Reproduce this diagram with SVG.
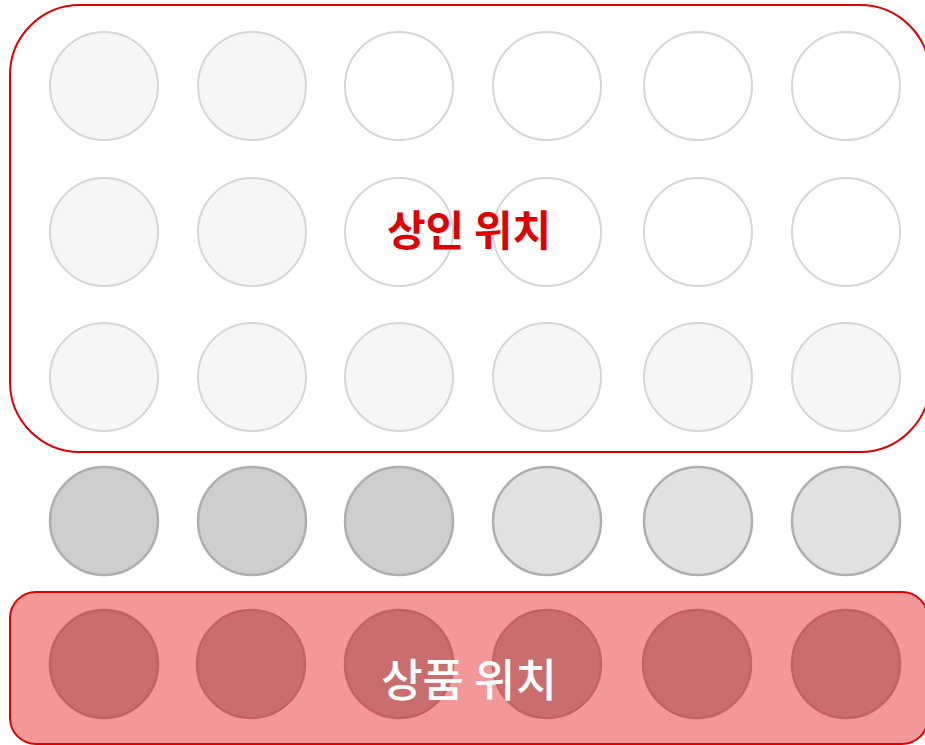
<svg xmlns="http://www.w3.org/2000/svg" width="925" height="745" viewBox="0 0 925 745">
<style>
.c{stroke-width:2}
.l{fill:#f6f6f6;stroke:#d6d6d6}
.w{fill:#ffffff;stroke:#d6d6d6}
.d{fill:#cecece;stroke:#aeaeae;stroke-width:2.5}
.m{fill:#e1e1e1;stroke:#aeaeae;stroke-width:2.5}
.r{fill:#ca6d6d;stroke:#c46262;stroke-width:2.5}
.t{font-family:"Noto Sans CJK KR",sans-serif;text-anchor:middle}
</style>
<rect width="925" height="745" fill="#ffffff"/>
<g id="merchant-area">
<rect x="10" y="5" width="920" height="447" rx="70" ry="70" fill="#ffffff" stroke="#e00000" stroke-width="2"/>
</g>
<g id="product-area">
<rect x="10" y="592" width="918" height="152" rx="26" ry="26" fill="#f39898" stroke="#e00000" stroke-width="2"/>
</g>
<g id="row1">
<circle class="c l" cx="104" cy="86" r="54"/>
<circle class="c l" cx="252" cy="86" r="54"/>
<circle class="c w" cx="399" cy="86" r="54"/>
<circle class="c w" cx="547" cy="86" r="54"/>
<circle class="c w" cx="698" cy="86" r="54"/>
<circle class="c w" cx="846" cy="86" r="54"/>
</g>
<g id="row2">
<circle class="c l" cx="104" cy="232" r="54"/>
<circle class="c l" cx="252" cy="232" r="54"/>
<circle class="c w" cx="399" cy="232" r="54"/>
<circle class="c w" cx="547" cy="232" r="54"/>
<circle class="c w" cx="698" cy="232" r="54"/>
<circle class="c w" cx="846" cy="232" r="54"/>
</g>
<g id="row3">
<circle class="c l" cx="104" cy="377" r="54"/>
<circle class="c l" cx="252" cy="377" r="54"/>
<circle class="c l" cx="399" cy="377" r="54"/>
<circle class="c l" cx="547" cy="377" r="54"/>
<circle class="c l" cx="698" cy="377" r="54"/>
<circle class="c l" cx="846" cy="377" r="54"/>
</g>
<g id="row4">
<circle class="c d" cx="104" cy="521" r="54"/>
<circle class="c d" cx="252" cy="521" r="54"/>
<circle class="c d" cx="399" cy="521" r="54"/>
<circle class="c m" cx="547" cy="521" r="54"/>
<circle class="c m" cx="698" cy="521" r="54"/>
<circle class="c m" cx="846" cy="521" r="54"/>
</g>
<g id="row5">
<circle class="c r" cx="104" cy="664" r="54"/>
<circle class="c r" cx="251" cy="664" r="54"/>
<circle class="c r" cx="399" cy="664" r="54"/>
<circle class="c r" cx="547" cy="664" r="54"/>
<circle class="c r" cx="697" cy="664" r="54"/>
<circle class="c r" cx="846" cy="664" r="54"/>
</g>
<g id="labels">
<text class="t" x="469" y="246" fill="#e00000" font-weight="bold" font-size="42">상인 위치</text>
<text class="t" x="469" y="697" fill="#ffffff" font-weight="500" font-size="45">상품 위치</text>
</g>
</svg>
